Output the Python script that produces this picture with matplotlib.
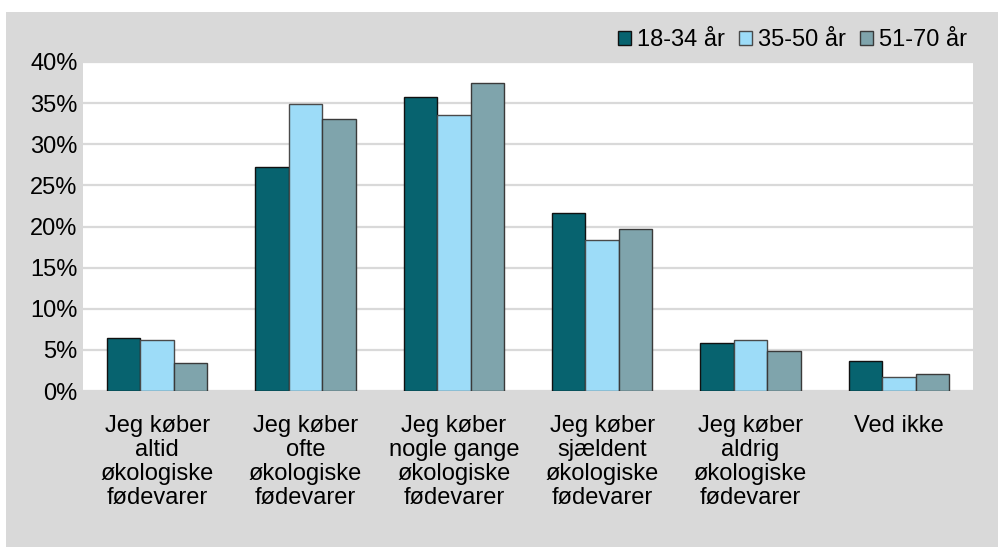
import matplotlib.pyplot as plt
import numpy as np
from matplotlib.patches import Rectangle

plt.rcParams['font.family'] = ['Liberation Sans', 'DejaVu Sans']

# Data
categories = ['Jeg køber\naltid\nøkologiske\nfødevarer',
              'Jeg køber\nofte\nøkologiske\nfødevarer',
              'Jeg køber\nnogle gange\nøkologiske\nfødevarer',
              'Jeg køber\nsjældent\nøkologiske\nfødevarer',
              'Jeg køber\naldrig\nøkologiske\nfødevarer',
              'Ved ikke']
series = ['18-34 år', '35-50 år', '51-70 år']
v_18_34 = [6.5, 27.2, 35.8, 21.7, 5.8, 3.6]
v_35_50 = [6.2, 34.9, 33.5, 18.3, 6.2, 1.7]
v_51_70 = [3.4, 33.1, 37.5, 19.7, 4.9, 2.1]

colors = ['#07636F', '#9DDCF8', '#7FA4AC']
edges = ['#111111', '#4A4A4A', '#3A3A3A']
fs = 17

fig = plt.figure(figsize=(9.98, 5.47), dpi=100)
fig.patch.set_facecolor('white')
fig.patches.append(Rectangle((6/998, 0), 1, 1 - 12/547, transform=fig.transFigure,
                             facecolor='#D9D9D9', edgecolor='none', zorder=-10))

ax = fig.add_axes([83/998, 1 - 391/547, 890/998, 329/547])
ax.set_facecolor('white')

x = np.arange(len(categories))
width = 0.225
for i, vals in enumerate([v_18_34, v_35_50, v_51_70]):
    ax.bar(x + (i - 1) * width, vals, width, color=colors[i], edgecolor=edges[i],
           linewidth=1.0, label=series[i], zorder=3)

ax.set_xlim(-0.5, len(categories) - 0.5)
ax.set_ylim(0, 40)
ax.set_yticks(range(0, 41, 5))
ax.set_yticklabels([f'{t}%' for t in range(0, 41, 5)], fontsize=fs)
ax.yaxis.grid(True, color='#D9D9D9', linewidth=1.6, zorder=0)
ax.set_xticks(x)
ax.set_xticklabels(categories, fontsize=fs, linespacing=1.12)
ax.tick_params(axis='y', length=0, pad=4)
ax.tick_params(axis='x', length=0, pad=17)
for s in ax.spines.values():
    s.set_visible(False)

ax.legend(loc='center right', bbox_to_anchor=(988/998, 1 - 40/547),
          bbox_transform=fig.transFigure, ncol=3, frameon=False, fontsize=fs,
          handlelength=0.55, handleheight=0.55, handletextpad=0.25, columnspacing=0.6)

fig.savefig('out.png', dpi=100, facecolor=fig.get_facecolor())
